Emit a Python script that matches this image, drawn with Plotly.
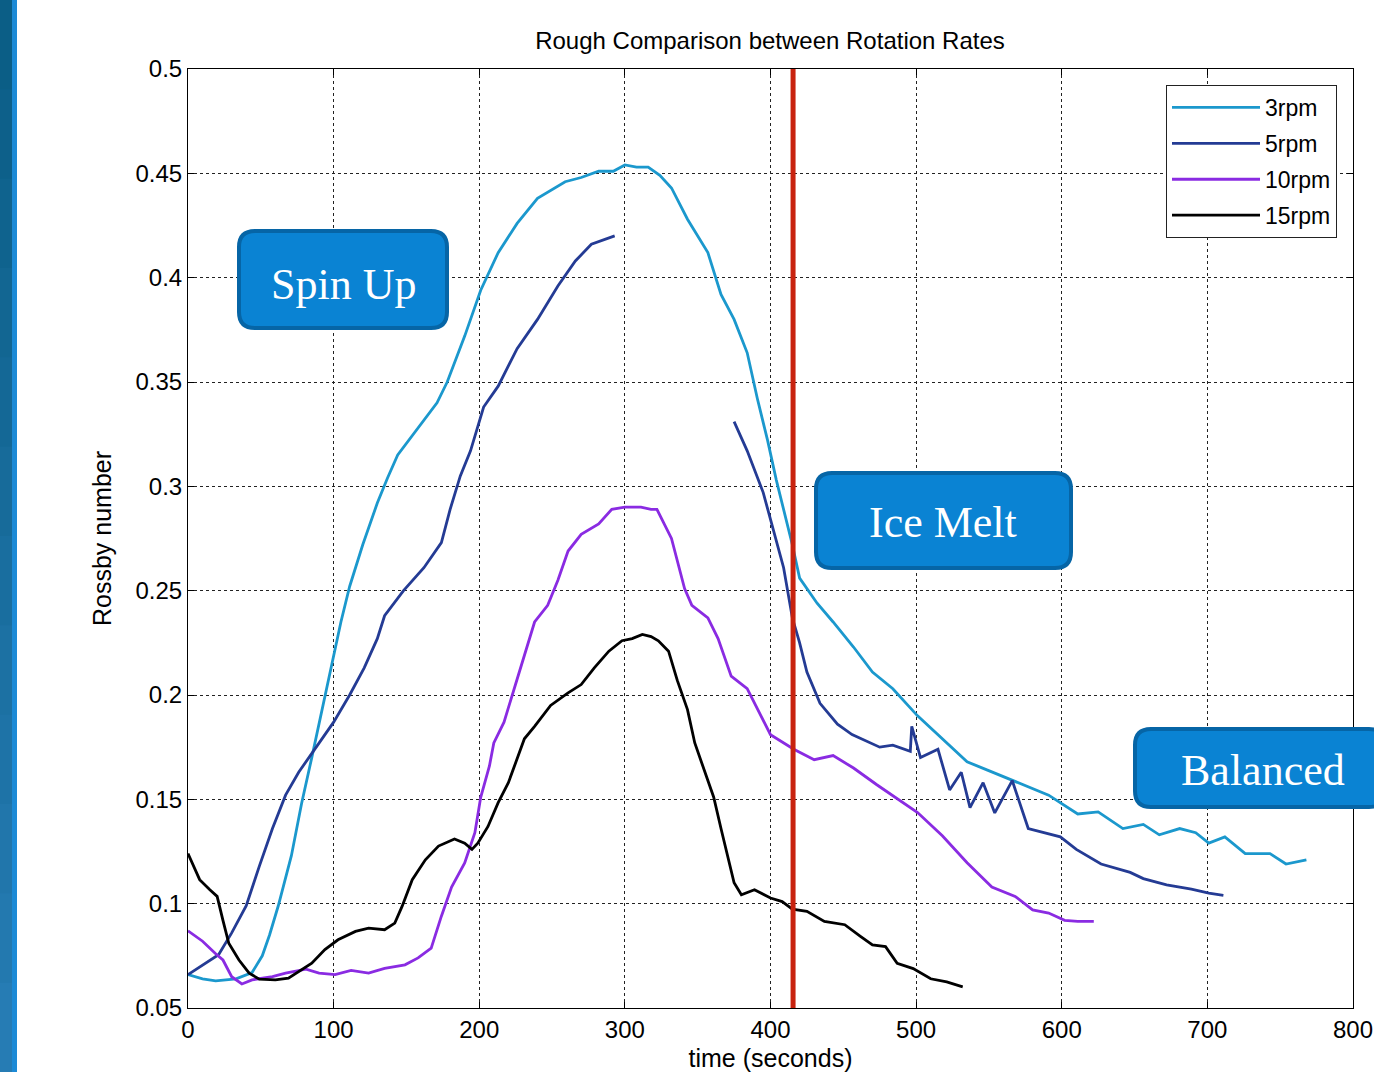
import plotly.graph_objects as go

# ---------------- data ----------------
series_names = ["3rpm", "5rpm", "10rpm", "15rpm"]

t_3rpm = [0, 10, 19, 33, 44, 51, 56, 62, 71, 78, 85, 90, 95, 100, 105, 111, 120, 130, 137, 144,
          157, 171, 178, 190, 201, 213, 226, 240, 259, 270, 282, 292, 300, 308, 316, 324, 332,
          343, 357, 366, 375, 384, 391, 398, 404, 411, 415, 420, 432, 443, 457, 470, 484, 501,
          518, 535, 549, 563, 577, 591, 611, 625, 642, 656, 667, 681, 692, 701, 712, 726, 743,
          754, 768]
y_3rpm = [0.066, 0.064, 0.063, 0.064, 0.067, 0.075, 0.085, 0.099, 0.123, 0.148, 0.170, 0.186,
          0.203, 0.219, 0.235, 0.252, 0.272, 0.292, 0.304, 0.315, 0.327, 0.340, 0.350, 0.372,
          0.394, 0.412, 0.426, 0.438, 0.446, 0.448, 0.451, 0.451, 0.454, 0.453, 0.453, 0.449,
          0.443, 0.428, 0.412, 0.392, 0.380, 0.364, 0.342, 0.322, 0.303, 0.283, 0.272, 0.256,
          0.244, 0.235, 0.223, 0.211, 0.203, 0.190, 0.179, 0.168, 0.164, 0.160, 0.156, 0.152,
          0.143, 0.144, 0.136, 0.138, 0.133, 0.136, 0.134, 0.129, 0.132, 0.124, 0.124, 0.119,
          0.121]

t_5rpm = [0, 12, 21, 30, 40, 49, 58, 67, 76, 86, 93, 100, 111, 121, 130, 135, 148, 162, 174,
          180, 187, 194, 203, 213, 226, 240, 254, 266, 277, 285, 293,
          None,
          375, 384, 395, 402, 409, 415, 420, 425, 434, 446, 456, 475, 484, 496, 497, 503, 515,
          523, 531, 537, 546, 554, 566, 577, 588, 599, 610, 627, 647, 656, 672, 689, 701, 711]
y_5rpm = [0.066, 0.0715, 0.0755, 0.086, 0.099, 0.118, 0.136, 0.152, 0.163, 0.173, 0.180, 0.187,
          0.200, 0.213, 0.227, 0.238, 0.250, 0.261, 0.273, 0.289, 0.305, 0.317, 0.338, 0.348,
          0.366, 0.380, 0.396, 0.408, 0.416, 0.418, 0.420,
          None,
          0.331, 0.317, 0.297, 0.279, 0.261, 0.237, 0.225, 0.211, 0.196, 0.186, 0.181, 0.175,
          0.176, 0.173, 0.185, 0.170, 0.174, 0.1545, 0.163, 0.146, 0.158, 0.1435, 0.159, 0.136,
          0.134, 0.132, 0.126, 0.119, 0.115, 0.112, 0.109, 0.107, 0.105, 0.104]

t_10rpm = [0, 10, 19, 24, 30, 37, 44, 58, 67, 81, 90, 101, 112, 124, 135, 149, 158, 167, 174,
           181, 190, 197, 201, 207, 210, 217, 224, 231, 238, 247, 254, 261, 270, 282, 291, 300,
           311, 318, 322, 332, 341, 346, 357, 364, 373, 384, 400, 416, 430, 443, 457, 473, 488,
           501, 518, 535, 552, 568, 580, 591, 602, 611, 622]
y_10rpm = [0.087, 0.082, 0.076, 0.073, 0.065, 0.0615, 0.0635, 0.065, 0.0667, 0.0686, 0.0667,
           0.066, 0.068, 0.0667, 0.069, 0.0707, 0.074, 0.0787, 0.094, 0.108, 0.1195, 0.134,
           0.151, 0.166, 0.177, 0.187, 0.203, 0.219, 0.235, 0.243, 0.255, 0.269, 0.277, 0.282,
           0.289, 0.290, 0.290, 0.289, 0.289, 0.275, 0.251, 0.243, 0.237, 0.227, 0.209, 0.203,
           0.181, 0.174, 0.169, 0.171, 0.165, 0.157, 0.150, 0.1437, 0.1325, 0.1196, 0.108,
           0.1035, 0.097, 0.0955, 0.092, 0.0915, 0.0915]

t_15rpm = [0, 4, 8, 15, 20, 24, 28, 35, 42, 49, 60, 69, 78, 85, 94, 103, 115, 124, 135, 142,
           147, 154, 163, 172, 183, 190, 195, 199, 206, 213, 220, 226, 231, 238, 249, 261, 270,
           279, 289, 298, 305, 312, 318, 323, 330, 336, 343, 348, 355, 361, 366, 375, 380, 389,
           400, 408, 415, 425, 437, 451, 462, 470, 479, 487, 498, 510, 521, 532]
y_15rpm = [0.124, 0.118, 0.1115, 0.1067, 0.1035, 0.092, 0.081, 0.073, 0.0667, 0.0638, 0.0635,
           0.0643, 0.0683, 0.0715, 0.078, 0.0827, 0.0867, 0.0883, 0.0875, 0.0907, 0.0987,
           0.1115, 0.121, 0.1276, 0.131, 0.129, 0.126, 0.129, 0.137, 0.1484, 0.158, 0.169,
           0.179, 0.185, 0.195, 0.201, 0.205, 0.213, 0.221, 0.226, 0.227, 0.229, 0.228, 0.226,
           0.221, 0.207, 0.193, 0.177, 0.163, 0.151, 0.136, 0.110, 0.1043, 0.1067, 0.1027,
           0.101, 0.0974, 0.0963, 0.0915, 0.0899, 0.0842, 0.0802, 0.0794, 0.0714, 0.0689,
           0.064, 0.0625, 0.0601]

x_tickvals = [0, 100, 200, 300, 400, 500, 600, 700, 800]
x_ticktext = ["0", "100", "200", "300", "400", "500", "600", "700", "800"]
y_tickvals = [0.05, 0.1, 0.15, 0.2, 0.25, 0.3, 0.35, 0.4, 0.45, 0.5]
y_ticktext = ["0.05", "0.1", "0.15", "0.2", "0.25", "0.3", "0.35", "0.4", "0.45", "0.5"]

ice_melt_time = 415.5
phase_labels = ["Spin Up", "Ice Melt", "Balanced"]

# ---------------- layout constants ----------------
W, H = 1374, 1072
ML, MR, MT, MB = 188, 21, 69, 64
PW, PH = W - ML - MR, H - MT - MB

def px(x):
    return (x - ML) / PW

def py(y):
    return (H - MB - y) / PH

colors = ["#1b98cd", "#243b94", "#8a2be2", "#000000"]
font_sans = "Liberation Sans, Arial, sans-serif"

fig = go.Figure()
all_t = [t_3rpm, t_5rpm, t_10rpm, t_15rpm]
all_y = [y_3rpm, y_5rpm, y_10rpm, y_15rpm]
for name, tt, yy, c in zip(series_names, all_t, all_y, colors):
    fig.add_trace(go.Scatter(x=tt, y=yy, mode="lines", name=name, legendgroup=name,
                             line=dict(color=c, width=2.8), connectgaps=False))

shapes = []
# left decorative slide bar
n_seg = 12
for i in range(n_seg):
    f = i / (n_seg - 1)
    r = int(11 + (38 - 11) * f)
    g = int(94 + (124 - 94) * f)
    b = int(134 + (180 - 134) * f)
    y0 = H * i / n_seg
    y1 = H * (i + 1) / n_seg + 1
    shapes.append(dict(type="rect", xref="paper", yref="paper", x0=px(0), x1=px(12),
                       y0=py(y1), y1=py(y0), fillcolor=f"rgb({r},{g},{b})",
                       line=dict(width=0), layer="above"))
shapes.append(dict(type="rect", xref="paper", yref="paper", x0=px(12), x1=px(17),
                   y0=py(H), y1=py(0), fillcolor="#1c8ad6", line=dict(width=0), layer="above"))

# ice melt marker line
shapes.append(dict(type="line", xref="x", yref="paper", x0=ice_melt_time, x1=ice_melt_time,
                   y0=0, y1=1, line=dict(color="#c8230f", width=5), layer="above"))

def rounded(x0, y0, x1, y1, r):
    pts = (f"M {px(x0 + r)},{py(y0)} L {px(x1 - r)},{py(y0)} "
           f"Q {px(x1)},{py(y0)} {px(x1)},{py(y0 + r)} L {px(x1)},{py(y1 - r)} "
           f"Q {px(x1)},{py(y1)} {px(x1 - r)},{py(y1)} L {px(x0 + r)},{py(y1)} "
           f"Q {px(x0)},{py(y1)} {px(x0)},{py(y1 - r)} L {px(x0)},{py(y0 + r)} "
           f"Q {px(x0)},{py(y0)} {px(x0 + r)},{py(y0)} Z")
    return dict(type="path", xref="paper", yref="paper", path=pts,
                fillcolor="#0a83d3", line=dict(color="#0665a6", width=4), layer="above")

boxes = [(239, 231, 447, 328), (816, 473, 1071, 568), (1135, 729, 1385, 807)]
label_centers = [(343, 284), (943, 522), (1263, 770)]
annotations = []
for (bx0, by0, bx1, by1), (cx, cy), label in zip(boxes, label_centers, phase_labels):
    shapes.append(rounded(bx0, by0, bx1, by1, 16))
    annotations.append(dict(xref="paper", yref="paper", x=px(cx), y=py(cy), text=label,
                            xanchor="center", yanchor="middle", showarrow=False,
                            font=dict(family="Liberation Serif, serif", size=44, color="white")))

fig.update_layout(
    width=W, height=H,
    margin=dict(l=ML, r=MR, t=MT, b=MB, pad=0, autoexpand=False),
    paper_bgcolor="white", plot_bgcolor="white",
    title=dict(text="Rough Comparison between Rotation Rates", x=770 / W, xanchor="center",
               y=1 - 41 / H, yanchor="middle", font=dict(family=font_sans, size=24, color="black")),
    font=dict(family=font_sans, color="black"),
    showlegend=True,
    legend=dict(x=px(1166), y=py(85), xanchor="left", yanchor="top", bgcolor="white",
                bordercolor="#222", borderwidth=1, font=dict(family=font_sans, size=23),
                tracegroupgap=3, itemwidth=88, traceorder="grouped"),
    shapes=shapes,
    annotations=annotations,
)
fig.update_xaxes(range=[0, 800], tickvals=x_tickvals, ticktext=x_ticktext, automargin=False,
                 showline=True, mirror="ticks", linecolor="black", linewidth=1,
                 ticks="inside", ticklen=6, tickcolor="black",
                 showgrid=True, gridcolor="#222", griddash="3px,3px", gridwidth=1,
                 zeroline=False, tickfont=dict(size=24),
                 title=dict(text="time (seconds)", font=dict(size=25), standoff=14))
fig.update_yaxes(range=[0.05, 0.5], tickvals=y_tickvals, ticktext=y_ticktext, automargin=False,
                 showline=True, mirror="ticks", linecolor="black", linewidth=1,
                 ticks="inside", ticklen=6, tickcolor="black",
                 showgrid=True, gridcolor="#222", griddash="3px,3px", gridwidth=1,
                 zeroline=False, tickfont=dict(size=24),
                 title=dict(text="Rossby number", font=dict(size=25), standoff=16))

fig.write_html("out.html")
